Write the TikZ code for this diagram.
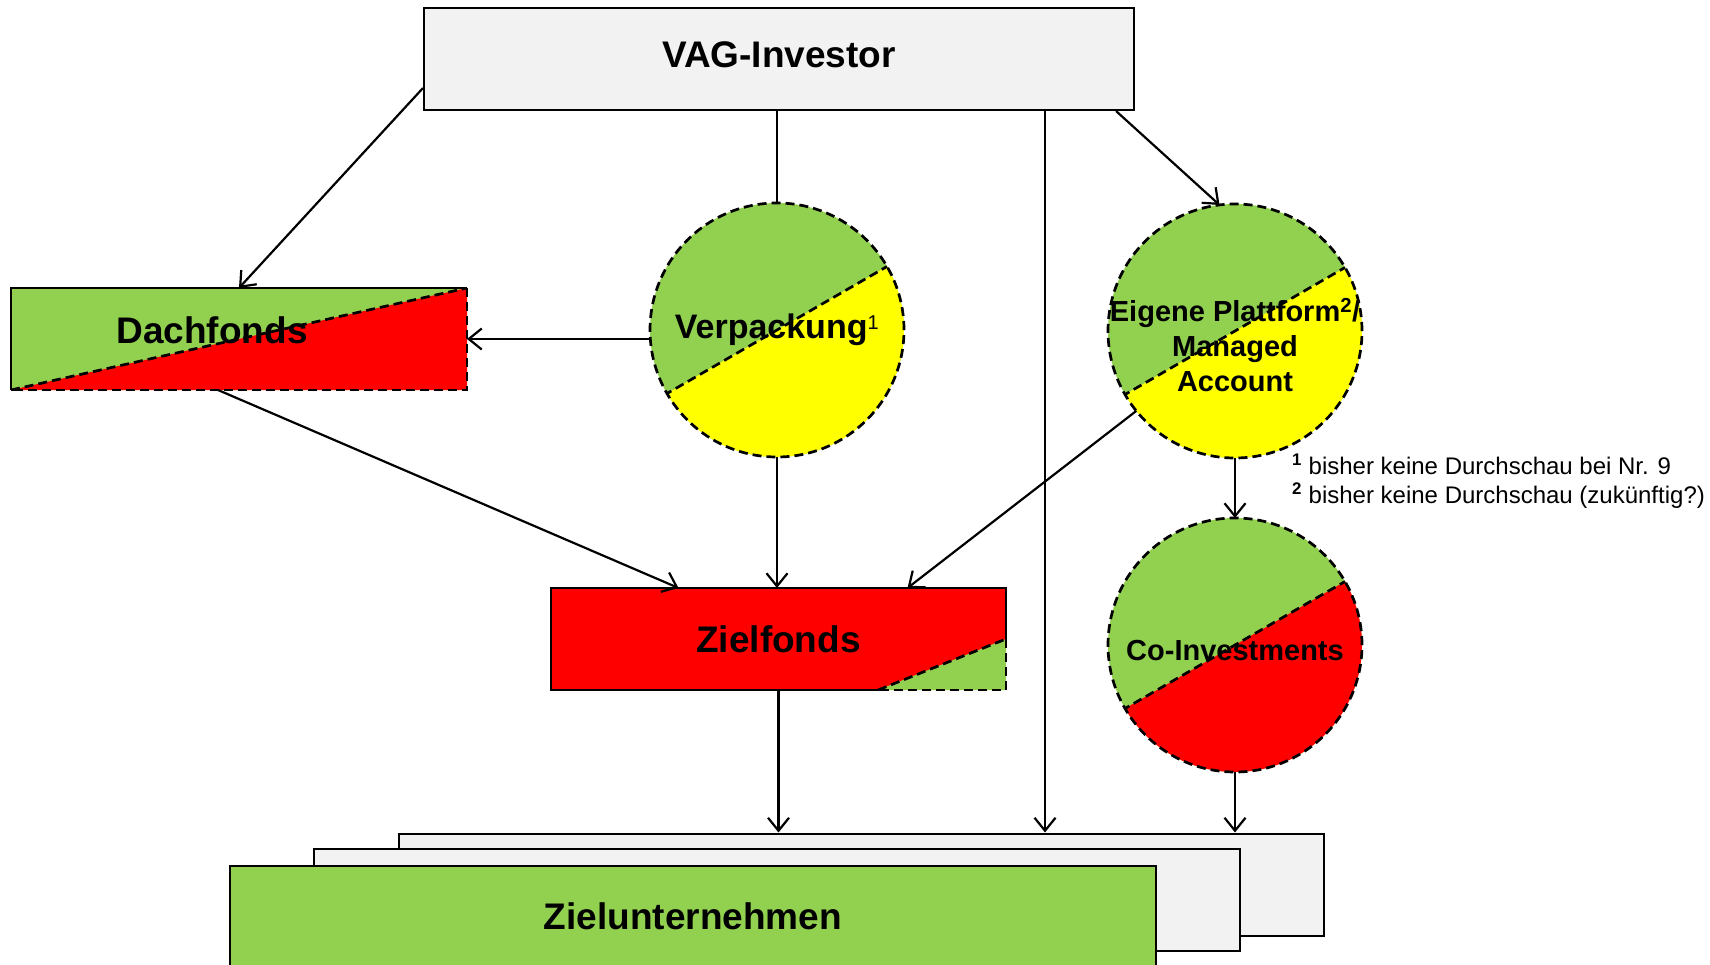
\documentclass[tikz,border=0pt]{standalone}
\usepackage{fontspec}
\setmainfont{Liberation Sans}
\usetikzlibrary{arrows.meta,positioning,calc}
\definecolor{leafgreen}{HTML}{92D050}
\definecolor{signalred}{HTML}{FF0000}
\definecolor{signalyellow}{HTML}{FFFF00}
\definecolor{panelgrey}{HTML}{F2F2F2}
\tikzset{
  boxfont/.style={font=\fontsize{37}{44}\selectfont\bfseries},
  circlefont/.style={font=\fontsize{29}{35}\selectfont\bfseries},
  notefont/.style={font=\fontsize{24}{29}\selectfont},
  fbox/.style={draw, line width=2pt, inner sep=0pt, minimum height=102pt, boxfont},
  greybox/.style={fbox, fill=panelgrey},
  greenbox/.style={fbox, fill=leafgreen},
  splitbox/.style={fbox, draw=none, outer sep=0pt},
  solidedge/.style={draw, line width=2pt},
  dashedge/.style={draw, line width=2.7pt, dash pattern=on 9pt off 5pt},
  splitcircle/.style 2 args={circle, inner sep=0pt, outer sep=0pt, minimum size=254pt,
    line width=2.7pt, draw, dash pattern=on 9pt off 5pt, fill=#1,
    path picture={
      \fill[#2] ($(path picture bounding box.center)+(30:200pt)$)
        -- ($(path picture bounding box.center)+(210:200pt)$)
        -- ($(path picture bounding box.center)+(-60:300pt)$) -- cycle;
      \draw[dashedge] ($(path picture bounding box.center)+(30:200pt)$)
        -- ($(path picture bounding box.center)+(210:200pt)$);
    }},
  arr/.style={-{Straight Barb[length=13pt,width=21pt]}, line width=2.2pt},
  link/.style={line width=2.2pt}
}
\begin{document}
\begin{tikzpicture}[x=1pt, y=-1pt]
  \useasboundingbox (0,0) rectangle (1710,965);
  \clip (0,0) rectangle (1710,965);

  % Zielunternehmen (Stapel)
  \node[greybox, minimum width=925pt] (back) at (861.5,884.5) {};
  \node[greybox, minimum width=926pt] (mid) at (777,900) {};
  \node[greenbox, minimum width=926pt] (front) at (693,916.5) {Zielunternehmen};

  \node[greybox, minimum width=710pt, text depth=9pt] (vag) at (779,59) {VAG-Investor};

  % Dachfonds: gruen/rot
  \node[splitbox, minimum width=456pt, fill=leafgreen,
    label={[boxfont, xshift=-27pt, yshift=9pt]center:Dachfonds},
    path picture={
      \fill[signalred] (path picture bounding box.south west)
        -- (path picture bounding box.north east)
        -- (path picture bounding box.south east) -- cycle;
      \draw[dashedge] (path picture bounding box.south west)
        -- (path picture bounding box.north east);
    }] (dach) at (239,339) {};
  \draw[solidedge] (dach.south west) -- (dach.north west) -- (dach.north east);
  \draw[dashedge] (dach.north east) -- (dach.south east) -- (dach.south west);

  % Zielfonds: rot mit gruener Ecke
  \node[splitbox, minimum width=455pt, fill=signalred,
    path picture={
      \fill[leafgreen] ([xshift=-128pt]path picture bounding box.south east)
        -- (path picture bounding box.east)
        -- (path picture bounding box.south east) -- cycle;
      \draw[dashedge] ([xshift=-128pt]path picture bounding box.south east)
        -- (path picture bounding box.east);
    }] (ziel) at (778.5,639) {Zielfonds};
  \draw[solidedge] ([xshift=-128pt]ziel.south east) -- (ziel.south west)
    -- (ziel.north west) -- (ziel.north east) -- (ziel.east);
  \draw[dashedge] (ziel.east) -- (ziel.south east) -- ([xshift=-128pt]ziel.south east);

  \node[splitcircle={leafgreen}{signalyellow}, font=\fontsize{34}{40}\selectfont\bfseries]
    (verp) at (777,330) {Verpackung\textsuperscript{\mdseries\fontsize{20}{20}\selectfont 1}};
  \node[splitcircle={leafgreen}{signalyellow},
    label={[circlefont, align=center, yshift=-14pt]center:{Eigene Plattform\textsuperscript{2}/\\Managed\\Account}}]
    (eigen) at (1235,331) {};
  \node[splitcircle={leafgreen}{signalred}, circlefont, text height=31pt] (coinv) at (1235,645) {Co-Investments};

  \node[notefont, anchor=west, align=left, inner sep=0pt] (notes) at (1292,481)
    {\textsuperscript{\bfseries 1} bisher keine Durchschau bei Nr. 9\\
     \textsuperscript{\bfseries 2} bisher keine Durchschau (zukünftig?)};

  \draw[arr] ([yshift=23pt]vag.south west) -- (dach.north);
  \draw[link] (verp.north |- vag.south) -- (verp.north);
  \draw[arr] (verp.west |- dach.east) -- (dach.east);
  \draw[arr] ([xshift=266pt]vag.south) -- ([xshift=266pt]vag.south |- back.north);
  \draw[arr] ([xshift=-19pt]vag.south east) -- (eigen.97);
  \draw[arr] ([xshift=-21pt]dach.south) -- ([xshift=-100pt]ziel.north);
  \draw[arr] (verp.south) -- (verp.south |- ziel.north);
  \draw[arr] (eigen.219) -- ([xshift=129pt]ziel.north);
  \draw[arr] (eigen.south) -- (coinv.north);
  \draw[arr] (ziel.south) -- (ziel.south |- back.north);
  \draw[arr] (coinv.south) -- (coinv.south |- back.north);
\end{tikzpicture}
\end{document}
